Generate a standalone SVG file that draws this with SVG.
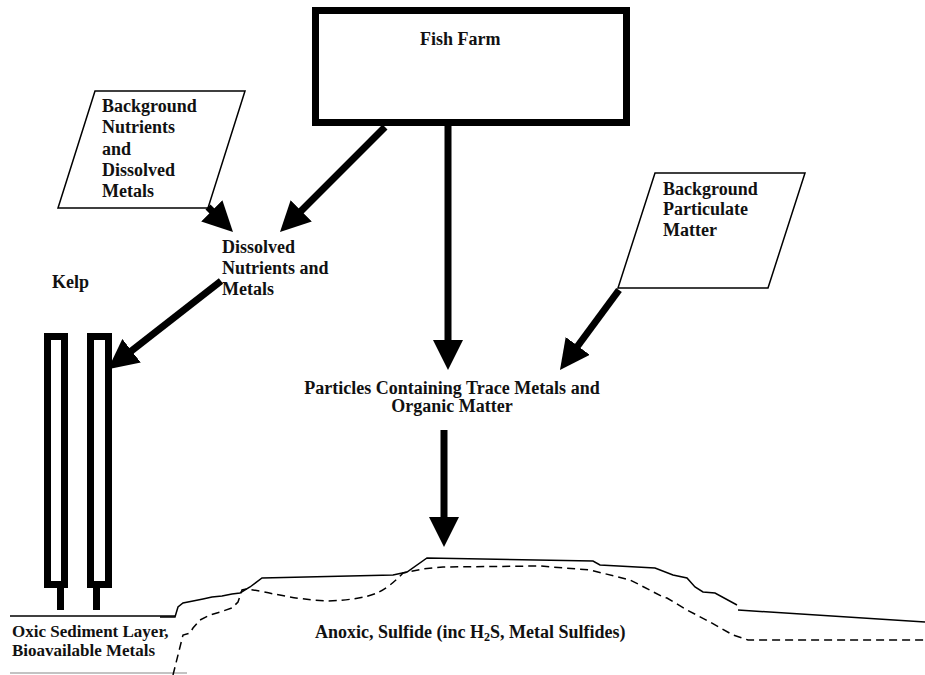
<svg xmlns="http://www.w3.org/2000/svg" width="925" height="675" viewBox="0 0 925 675">
<style>
  text { font-family: "Liberation Serif", "Times New Roman", serif; font-weight: bold; font-size: 18px; fill: #111; }
  .small { font-size: 17px; }
  .box { fill: #fff; stroke: #000; }
  .para { fill: #fff; stroke: #000; stroke-width: 1.5; }
  .arrow { stroke: #000; stroke-width: 7; fill: none; marker-end: url(#head); }
  .ground { fill: none; stroke: #000; stroke-width: 1.5; }
  .dash { fill: none; stroke: #000; stroke-width: 1.5; stroke-dasharray: 8 5; }
</style>
<defs>
  <marker id="head" markerUnits="userSpaceOnUse" markerWidth="30" markerHeight="30" viewBox="0 0 30 30" refX="2" refY="15" orient="auto">
    <path d="M0,0 L30,15 L0,30 Z" fill="#000"/>
  </marker>
</defs>
<rect width="925" height="675" fill="#fff"/>

<g id="fish-farm">
  <rect class="box" x="315.5" y="10.5" width="311" height="112" stroke-width="7"/>
  <text x="420" y="45">Fish Farm</text>
</g>

<g id="background-nutrients">
  <polygon class="para" points="95,91 245,91 208,208 58,208"/>
  <text x="102" y="112">Background</text>
  <text x="102" y="133">Nutrients</text>
  <text x="102" y="155">and</text>
  <text x="102" y="176">Dissolved</text>
  <text x="102" y="197">Metals</text>
</g>

<g id="dissolved">
  <text x="222" y="253">Dissolved</text>
  <text x="222" y="274">Nutrients and</text>
  <text x="222" y="295">Metals</text>
</g>

<g id="background-particulate">
  <polygon class="para" points="655,173 805,173 768,288 618,288"/>
  <text x="663" y="195">Background</text>
  <text x="663" y="215">Particulate</text>
  <text x="663" y="236">Matter</text>
</g>

<g id="particles">
  <text x="452" y="394" text-anchor="middle">Particles Containing Trace Metals and</text>
  <text x="452" y="412" text-anchor="middle">Organic Matter</text>
</g>

<g id="kelp">
  <text x="52" y="288">Kelp</text>
  <rect class="box" x="47.5" y="336.5" width="17" height="248" stroke-width="7"/>
  <rect class="box" x="90.5" y="336.5" width="18" height="248" stroke-width="7"/>
  <line x1="60.5" y1="584" x2="60.5" y2="610" stroke="#000" stroke-width="7"/>
  <line x1="96.5" y1="584" x2="96.5" y2="610" stroke="#000" stroke-width="7"/>
</g>

<g id="oxic-layer">
  <line x1="10" y1="616" x2="175" y2="616" stroke="#000" stroke-width="1.5"/>
  <line x1="10" y1="673" x2="187" y2="673" stroke="#888" stroke-width="1.2"/>
  <text class="small" x="12" y="637">Oxic Sediment Layer,</text>
  <text class="small" x="12" y="656">Bioavailable Metals</text>
</g>

<g id="sediment">
  <path class="ground" d="M160,617 L175,617 L178,607 L183,603 L193,601 L203,599 L212,597 L222,596 L232,594 L240,593 L250,587 L262,578 L393,575 L407,572 L427,558 L593,561 L600,565 L655,568 L673,575 L687,578 L695,587 L703,592 L715,593 L737,605"/>
  <path class="ground" d="M738,610 L925,622"/>
  <path class="dash" d="M173,675 L183,635 L190,633 L193,628 L200,620 L210,615 L220,612 L232,608 L238,602 L242,590 L247,589 L260,591 Q300,600 327,601 Q360,600 377,593 Q390,587 403,573 L423,569 L443,567 L540,566 L590,570 L630,580 L640,585 L663,597 L667,598 L687,610 L710,622 L733,635 L748,640 L925,640"/>
  <text x="315" y="638">Anoxic, Sulfide (inc H<tspan font-size="12" dy="3">2</tspan><tspan dy="-3">S, Metal Sulfides)</tspan></text>
</g>

<g id="connectors">
  <line class="arrow" x1="208" y1="207" x2="213.2" y2="212.2"/>
  <line class="arrow" x1="385" y1="127" x2="299.8" y2="212.2"/>
  <line class="arrow" x1="221" y1="281" x2="130" y2="352"/>
  <line class="arrow" x1="448" y1="126" x2="448" y2="342"/>
  <line class="arrow" x1="619" y1="290" x2="576.6" y2="347.5"/>
  <line class="arrow" x1="444" y1="430" x2="444" y2="519"/>
</g>
</svg>
